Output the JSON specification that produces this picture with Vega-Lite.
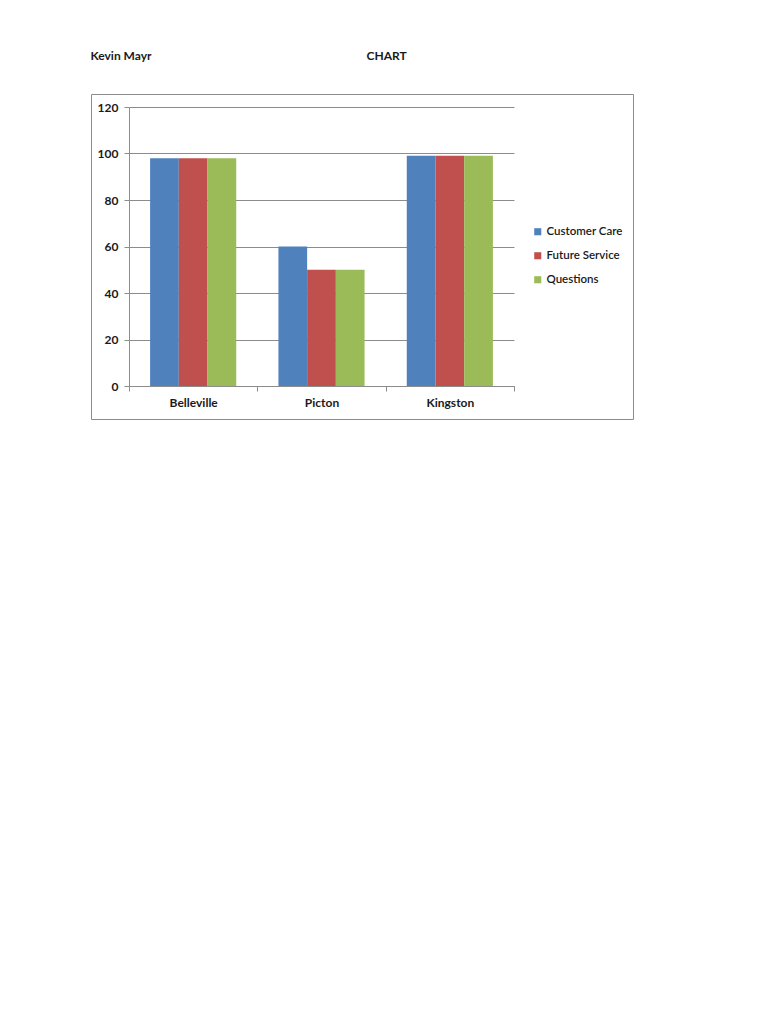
{
  "$schema": "https://vega.github.io/schema/vega-lite/v6.json",
  "autosize": {"type": "none"},
  "padding": {"left": 91, "top": 94, "right": 10, "bottom": 10},
  "width": 542,
  "height": 325,
  "background": "#ffffff",
  "data": {
    "values": [
      {"city": "Belleville", "series": "Customer Care", "value": 98},
      {"city": "Belleville", "series": "Future Service", "value": 98},
      {"city": "Belleville", "series": "Questions", "value": 98},
      {"city": "Picton", "series": "Customer Care", "value": 60},
      {"city": "Picton", "series": "Future Service", "value": 50},
      {"city": "Picton", "series": "Questions", "value": 50},
      {"city": "Kingston", "series": "Customer Care", "value": 99},
      {"city": "Kingston", "series": "Future Service", "value": 99},
      {"city": "Kingston", "series": "Questions", "value": 99}
    ]
  },
  "mark": {"type": "bar"},
  "encoding": {
    "x": {
      "field": "city",
      "type": "nominal",
      "sort": ["Belleville", "Picton", "Kingston"],
      "scale": {"range": [38, 423], "paddingInner": 0, "paddingOuter": 0},
      "axis": {
        "title": "CHART",
        "titleX": 275,
        "titleY": -327,
        "titleAlign": "left",
        "titleBaseline": "alphabetic",
        "titleAnchor": null,
        "offset": -33,
        "labelAngle": 0,
        "labelPadding": 6,
        "tickBand": "extent",
        "tickSize": 5,
        "grid": false
      }
    },
    "xOffset": {
      "field": "series",
      "type": "nominal",
      "sort": ["Customer Care", "Future Service", "Questions"],
      "scale": {"paddingInner": 0, "paddingOuter": 0.735}
    },
    "y": {
      "field": "value",
      "type": "quantitative",
      "scale": {"domain": [0, 120], "range": [292, 13], "nice": false, "zero": true},
      "axis": {
        "title": "Kevin Mayr",
        "titleAngle": 0,
        "titleX": -39,
        "titleY": -35,
        "titleAlign": "left",
        "titleBaseline": "alphabetic",
        "titleAnchor": null,
        "offset": -38,
        "values": [0, 20, 40, 60, 80, 100, 120],
        "tickSize": 5,
        "labelPadding": 6,
        "grid": true
      }
    },
    "color": {
      "field": "series",
      "type": "nominal",
      "sort": ["Customer Care", "Future Service", "Questions"],
      "scale": {
        "domain": ["Customer Care", "Future Service", "Questions"],
        "range": ["#4f81bd", "#c0504d", "#9bbb59"]
      },
      "legend": {
        "title": null,
        "orient": "none",
        "legendX": 441,
        "legendY": 132,
        "symbolType": "square",
        "symbolSize": 50,
        "symbolStrokeWidth": 0,
        "rowPadding": 11,
        "labelOffset": 3
      }
    }
  },
  "config": {
    "view": {"stroke": "#8c8c8c", "strokeWidth": 1},
    "axis": {
      "domainColor": "#8c8c8c",
      "tickColor": "#8c8c8c",
      "gridColor": "#8c8c8c",
      "labelFont": "Lato",
      "labelFontSize": 12,
      "labelFontWeight": "bold",
      "labelColor": "#1a1a1a",
      "titleFont": "Lato",
      "titleFontSize": 12,
      "titleFontWeight": "bold",
      "titleColor": "#1a1a1a"
    },
    "legend": {
      "labelFont": "Lato",
      "labelFontSize": 11.5,
      "labelFontWeight": 600,
      "labelColor": "#1a1a1a"
    }
  }
}
